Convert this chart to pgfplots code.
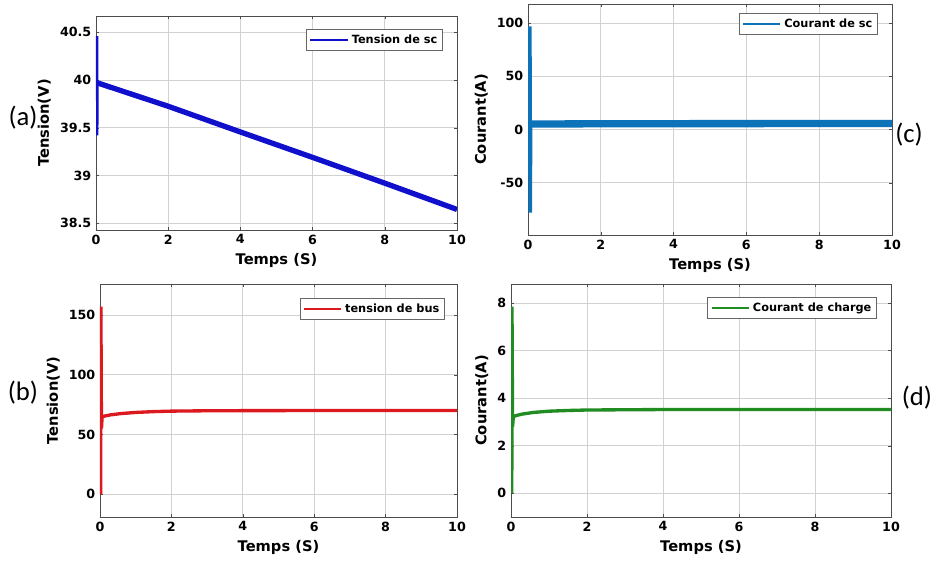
\documentclass[border=0pt]{standalone}
\usepackage{fontspec}
\setmainfont{DejaVu Sans}
\newfontfamily\calib{Carlito}
\usepackage{pgfplots}
\pgfplotsset{compat=1.18}

\definecolor{cA}{rgb}{0.06,0.06,0.80}
\definecolor{cB}{rgb}{0.86,0.10,0.12}
\definecolor{cC}{rgb}{0.05,0.45,0.72}
\definecolor{cD}{rgb}{0.13,0.55,0.13}

\pgfplotsset{
  matstyle/.style={
    scale only axis,
    xmin=0, xmax=10,
    xtick={0,2,...,10},
    grid=major,
    grid style={black!18, line width=0.7pt},
    axis line style={black!70, line width=0.7pt},
    tick style={black!70},
    tick align=inside,
    major tick length=2.5pt,
    /pgf/number format/assume math mode=true,
    ticklabel style={font=\fontsize{9.5}{10}\selectfont\bfseries},
    label style={font=\fontsize{11}{12}\selectfont\bfseries},
    xlabel={Temps (S)},
    legend cell align=left,
    legend style={font=\fontsize{8.5}{10}\selectfont\bfseries,
      draw=black!60, fill=white, inner sep=2pt,
      at={(1,1)}, anchor=north east},
    legend image code/.code={\draw[#1, line width=2pt] (0pt,0pt) -- (28pt,0pt);},
  }
}

\begin{document}
\begin{tikzpicture}
\useasboundingbox (0,0) rectangle (702pt,423pt);

% (a) tension du supercondensateur
\begin{axis}[matstyle, at={(72pt,250.5pt)}, anchor=south west,
  width=270.75pt, height=160.5pt,
  ymin=38.43, ymax=40.67, ytick={38.5,39,...,40.5},
  ylabel={Tension(V)},
  legend style={xshift=-10.5pt, yshift=-9.75pt}]
\addplot[cA, line width=1.8pt, forget plot] coordinates {
  (0.03,39.97) (0.03,40.46) (0.035,39.42) (0.04,39.97)};
\addplot[cA, line width=4pt] coordinates {
  (0.04,39.97) (2,39.725) (4,39.456) (6,39.19) (8,38.92) (10,38.645)};
\addlegendentry{Tension de sc}
\end{axis}

% (c) courant du supercondensateur
\begin{axis}[matstyle, at={(396pt,246.75pt)}, anchor=south west,
  width=273pt, height=173.25pt,
  ymin=-99, ymax=118, ytick={-50,0,50,100},
  ylabel={Courant(A)},
  legend style={xshift=-10.5pt, yshift=-6.75pt}]
\addplot[cC, line width=2.8pt, forget plot] coordinates {
  (0.05,5) (0.05,97) (0.06,-78) (0.07,5)};
\addplot[cC, line width=5.5pt] coordinates {
  (0.07,5.2) (2,5.5) (5,5.6) (10,5.8)};
\addlegendentry{Courant de sc}
\end{axis}

% (b) tension du bus
\begin{axis}[matstyle, at={(75pt,35.25pt)}, anchor=south west,
  width=267.75pt, height=174.75pt,
  ymin=-19, ymax=176, ytick={0,50,100,150},
  ylabel={Tension(V)},
  legend style={xshift=-9pt, yshift=-10.5pt}]
\addplot[cB, line width=2pt, forget plot] coordinates {
  (0.03,0) (0.035,157) (0.05,55) (0.07,65)};
\addplot[cB, line width=2.5pt] coordinates {
  (0.07,65) (0.1,65.3) (0.3,66.5) (0.6,67.6) (1,68.5) (1.5,69.2)
  (2,69.6) (3,69.9) (4,70) (6,70.1) (10,70.1)};
\addlegendentry{tension de bus}
\end{axis}

% (d) courant de charge
\begin{axis}[matstyle, at={(383.25pt,35.25pt)}, anchor=south west,
  width=285pt, height=174.75pt,
  ymin=-1, ymax=8.8, ytick={0,2,...,8},
  ylabel={Courant(A)},
  legend style={xshift=-10.5pt, yshift=-9.75pt}]
\addplot[cD, line width=2pt, forget plot] coordinates {
  (0.03,0) (0.035,7.85) (0.05,2.8) (0.07,3.2)};
\addplot[cD, line width=2.5pt] coordinates {
  (0.07,3.2) (0.1,3.25) (0.3,3.33) (0.6,3.4) (1,3.45) (1.5,3.48)
  (2,3.5) (4,3.52) (10,3.52)};
\addlegendentry{Courant de charge}
\end{axis}

\node[font=\calib\fontsize{20}{22}\selectfont] at (17.25pt,334.5pt) {(a)};
\node[font=\calib\fontsize{20}{22}\selectfont] at (17.25pt,128.25pt) {(b)};
\node[font=\calib\fontsize{20}{22}\selectfont] at (681.75pt,321.75pt) {(c)};
\node[font=\calib\fontsize{20}{22}\selectfont] at (687.75pt,124.5pt) {(d)};
\end{tikzpicture}
\end{document}
